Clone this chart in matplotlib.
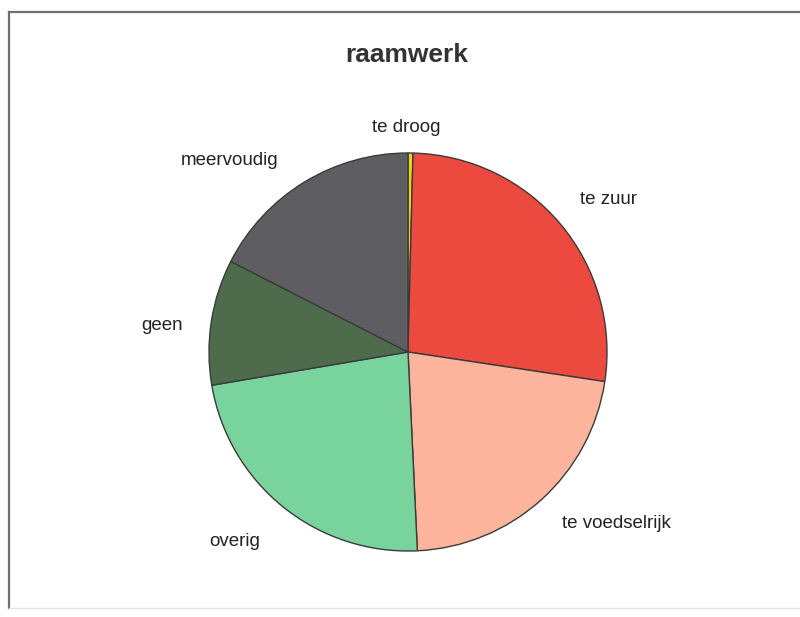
import matplotlib
matplotlib.use("Agg")
import matplotlib.pyplot as plt
from matplotlib.lines import Line2D

plt.rcParams['font.family'] = ['Liberation Sans', 'DejaVu Sans']

title = "raamwerk"
categories = ["te droog", "te zuur", "te voedselrijk", "overig", "geen", "meervoudig"]
values = [0.4, 27.0, 21.9, 23.1, 10.2, 17.5]
colors = ["#e8d21a", "#ec4a3e", "#fcb49c", "#78d39c", "#4e6b4c", "#5e5e62"]

# label anchor positions in figure pixels (x, y from top)
label_pos = [(406, 128), (609, 200), (616, 524), (235, 541), (162, 326), (230, 160)]

W, H = 800, 617
fig = plt.figure(figsize=(W / 100, H / 100), dpi=100)
fig.patch.set_facecolor("white")

cx, cy, r = 408, 352, 199
ax = fig.add_axes([(cx - r) / W, (H - cy - r) / H, 2 * r / W, 2 * r / H])
ax.pie(values, colors=colors, startangle=90, counterclock=False,
       wedgeprops=dict(edgecolor="#3a3a3a", linewidth=1.0))
ax.set_xlim(-1, 1)
ax.set_ylim(-1, 1)
ax.set_aspect("auto")
ax.axis("off")

for name, (px, py) in zip(categories, label_pos):
    fig.text(px / W, 1 - py / H, name, ha="center", va="center",
             fontsize=13.5, color="#222222")

fig.text(407 / W, 1 - 55 / H, title, ha="center", va="center",
         fontsize=19, fontweight="bold", color="#333333")

# chart frame
fig.add_artist(Line2D([9 / W, 9 / W], [1 - 12 / H, 1 - 608 / H],
                      transform=fig.transFigure, color="#707070", lw=1.6))
fig.add_artist(Line2D([9 / W, 1.0], [1 - 12 / H, 1 - 12 / H],
                      transform=fig.transFigure, color="#707070", lw=1.6))
fig.add_artist(Line2D([9 / W, 1.0], [1 - 608 / H, 1 - 608 / H],
                      transform=fig.transFigure, color="#e4e4e4", lw=1.0))

fig.savefig("out.png", dpi=100)
